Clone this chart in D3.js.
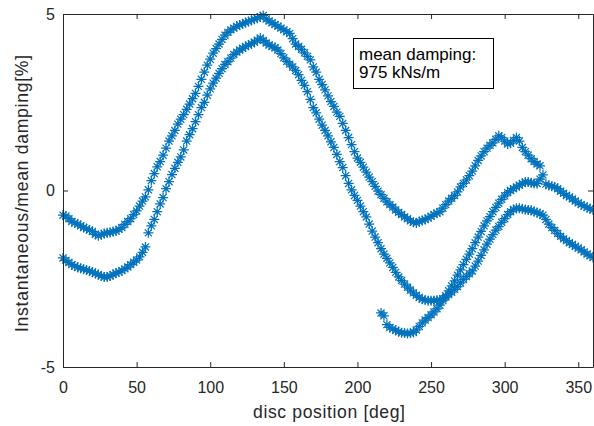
<!DOCTYPE html>
<html>
<head>
<meta charset="utf-8">
<script src="https://cdn.jsdelivr.net/npm/d3@7"></script>
<style>
  body { margin: 0; background: #fff; }
  text { font-family: "Liberation Sans", Arial, Helvetica, sans-serif; }
</style>
</head>
<body>
<div id="chart"></div>
<script>
// disc angle grids (deg) and damping values (% of mean)
const angleA = d3.range(0, 325, 2)
const dampA = [
  -0.70, -0.72, -0.80, -0.88, -0.92, -0.95, -1.00, -1.05, -1.08, -1.12,
  -1.16, -1.24, -1.28, -1.25, -1.22, -1.20, -1.19, -1.16, -1.15, -1.10,
  -1.05, -0.96, -0.88, -0.80, -0.68, -0.58, -0.44, -0.30, -0.18, 0.02,
  0.28, 0.48, 0.67, 0.82, 1.00, 1.20, 1.40, 1.55, 1.70, 1.88,
  2.02, 2.15, 2.30, 2.45, 2.60, 2.75, 2.95, 3.15, 3.35, 3.55,
  3.72, 3.89, 4.02, 4.15, 4.28, 4.40, 4.48, 4.55, 4.60, 4.65,
  4.69, 4.72, 4.76, 4.79, 4.82, 4.85, 4.88, 4.92, 4.96, 4.86,
  4.80, 4.75, 4.70, 4.66, 4.60, 4.55, 4.50, 4.45, 4.30, 4.15,
  4.08, 4.00, 3.90, 3.80, 3.70, 3.50, 3.35, 3.15, 3.00, 2.85,
  2.68, 2.52, 2.38, 2.22, 2.10, 1.90, 1.70, 1.50, 1.30, 1.10,
  0.92, 0.80, 0.66, 0.52, 0.38, 0.25, 0.12, -0.02, -0.12, -0.22,
  -0.32, -0.40, -0.47, -0.55, -0.62, -0.68, -0.75, -0.80, -0.86, -0.90,
  -0.92, -0.88, -0.85, -0.82, -0.78, -0.73, -0.68, -0.64, -0.60, -0.50,
  -0.40, -0.30, -0.22, -0.14, -0.04, 0.10, 0.20, 0.30, 0.42, 0.55,
  0.70, 0.85, 0.98, 1.10, 1.20, 1.28, 1.35, 1.45, 1.55, 1.50,
  1.40, 1.32, 1.34, 1.42, 1.50, 1.40, 1.22, 1.10, 1.00, 0.90,
  0.82, 0.75, 0.70
]

const angleB = d3.range(0, 361, 2)
const dampB = [
  -1.91, -1.98, -2.04, -2.10, -2.14, -2.18, -2.20, -2.23, -2.25, -2.28,
  -2.31, -2.35, -2.38, -2.42, -2.45, -2.45, -2.42, -2.38, -2.34, -2.31,
  -2.27, -2.22, -2.17, -2.10, -2.03, -1.97, -1.88, -1.75, -1.60, -1.20,
  -1.00, -0.82, -0.60, -0.38, -0.20, 0.05, 0.25, 0.45, 0.63, 0.80,
  0.95, 1.15, 1.40, 1.58, 1.75, 1.95, 2.15, 2.35, 2.50, 2.70,
  2.88, 3.04, 3.18, 3.32, 3.45, 3.57, 3.65, 3.75, 3.85, 3.92,
  3.98, 4.03, 4.08, 4.12, 4.16, 4.20, 4.26, 4.32, 4.25, 4.18,
  4.12, 4.08, 4.05, 3.98, 3.88, 3.76, 3.66, 3.58, 3.50, 3.40,
  3.28, 3.12, 2.98, 2.80, 2.58, 2.35, 2.20, 2.02, 1.85, 1.70,
  1.55, 1.38, 1.22, 1.02, 0.82, 0.65, 0.42, 0.20, 0.02, -0.14,
  -0.28, -0.44, -0.60, -0.75, -0.95, -1.15, -1.32, -1.48, -1.65, -1.80,
  -1.92, -2.05, -2.18, -2.32, -2.45, -2.55, -2.65, -2.74, -2.82, -2.90,
  -2.97, -3.03, -3.08, -3.10, -3.12, -3.12, -3.12, -3.11, -3.10, -3.07,
  -3.02, -2.95, -2.88, -2.80, -2.72, -2.62, -2.52, -2.44, -2.36, -2.28,
  -2.14, -2.00, -1.84, -1.68, -1.52, -1.38, -1.25, -1.12, -1.02, -0.90,
  -0.80, -0.68, -0.60, -0.54, -0.50, -0.50, -0.52, -0.54, -0.55, -0.56,
  -0.60, -0.62, -0.66, -0.70, -0.82, -0.95, -1.05, -1.13, -1.22, -1.30,
  -1.37, -1.42, -1.48, -1.53, -1.58, -1.63, -1.68, -1.74, -1.80, -1.85,
  -1.90
]

const angleC = d3.range(216, 361, 2)
const dampC = [
  -3.47, -3.55, -3.80, -3.88, -3.92, -3.96, -4.00, -4.03, -4.04, -4.05,
  -4.04, -4.02, -3.95, -3.85, -3.75, -3.67, -3.60, -3.52, -3.44, -3.35,
  -3.25, -3.12, -2.98, -2.84, -2.70, -2.56, -2.40, -2.25, -2.10, -1.95,
  -1.80, -1.65, -1.48, -1.32, -1.16, -1.00, -0.86, -0.74, -0.60, -0.48,
  -0.36, -0.25, -0.15, -0.06, 0.00, 0.05, 0.10, 0.15, 0.20, 0.24,
  0.24, 0.22, 0.20, 0.20, 0.32, 0.44, 0.18, 0.14, 0.12, 0.10,
  0.05, -0.02, -0.08, -0.14, -0.18, -0.24, -0.30, -0.35, -0.40, -0.44,
  -0.48, -0.52, -0.55
]

const xTicks = [0, 50, 100, 150, 200, 250, 300, 350]
const yTicks = [-5, 0, 5]
const noteLines = ['mean damping:', '975 kNs/m']

const margin = {top: 14, right: 1, bottom: 59, left: 63}
const width = 594 - margin.left - margin.right
const height = 426 - margin.top - margin.bottom
const axisColor = '#262626'
const markerColor = '#0072BD'

const svg = d3.select('#chart')
  .append('svg')
  .attr('width', 594)
  .attr('height', 426)

const g = svg.append('g')
  .attr('transform', `translate(${margin.left},${margin.top})`)

const x = d3.scaleLinear().domain([0, 360]).range([0, width])
const y = d3.scaleLinear().domain([-5, 5]).range([height, 0])

// asterisk marker like matlab '*'
const r = 5
const k = r * 0.7071
const star = `M${-r},0H${r}M0,${-r}V${r}M${-k},${-k}L${k},${k}M${-k},${k}L${k},${-k}`

const series = [
  d3.zip(angleA, dampA),
  d3.zip(angleB, dampB),
  d3.zip(angleC, dampC)
]

const marks = g.append('g').attr('class', 'marks')
series.forEach(pts => {
  marks.append('g')
    .selectAll('path')
    .data(pts)
    .enter().append('path')
    .attr('d', star)
    .attr('transform', d => `translate(${x(d[0])},${y(d[1])})`)
    .attr('fill', 'none')
    .attr('stroke', markerColor)
    .attr('stroke-width', 1.25)
})

// axes, box style with ticks inside
const styleAxis = sel => {
  sel.selectAll('path.domain').attr('stroke', axisColor)
  sel.selectAll('.tick line').attr('stroke', axisColor)
  sel.selectAll('.tick text')
    .attr('fill', axisColor)
    .style('font-size', '16px')
    .style('font-family', '"Liberation Sans", Arial, sans-serif')
}

const plain = d => String(d)

g.append('g')
  .attr('transform', `translate(0,${height})`)
  .call(d3.axisBottom(x).tickValues(xTicks).tickFormat(plain).tickSizeInner(-5).tickSizeOuter(0).tickPadding(15))
  .call(styleAxis)

g.append('g')
  .call(d3.axisTop(x).tickValues(xTicks).tickSizeInner(-5).tickSizeOuter(0).tickFormat(''))
  .call(styleAxis)

g.append('g')
  .call(d3.axisLeft(y).tickValues(yTicks).tickFormat(plain).tickSizeInner(-5).tickSizeOuter(0).tickPadding(8))
  .call(styleAxis)

g.append('g')
  .attr('transform', `translate(${width},0)`)
  .call(d3.axisRight(y).tickValues(yTicks).tickSizeInner(-5).tickSizeOuter(0).tickFormat(''))
  .call(styleAxis)

// axis labels
svg.append('text')
  .attr('x', 329)
  .attr('y', 418)
  .attr('text-anchor', 'middle')
  .attr('fill', axisColor)
  .attr('textLength', 152)
  .style('font-size', '17.6px')
  .text('disc position [deg]')

svg.append('text')
  .attr('transform', 'translate(27.5,193.5) rotate(-90)')
  .attr('text-anchor', 'middle')
  .attr('fill', axisColor)
  .attr('textLength', 277)
  .style('font-size', '17.6px')
  .text('Instantaneous/mean damping[%]')

// annotation box
svg.append('rect')
  .attr('x', 353.5)
  .attr('y', 38.5)
  .attr('width', 140)
  .attr('height', 50)
  .attr('fill', '#fff')
  .attr('stroke', '#000')
  .attr('stroke-width', 1)

svg.append('g')
  .selectAll('text')
  .data(noteLines)
  .enter().append('text')
  .attr('x', 359)
  .attr('y', (d, i) => 59.5 + i * 18.5)
  .attr('fill', '#000')
  .style('font-size', '17px')
  .text(d => d)
</script>
</body>
</html>
